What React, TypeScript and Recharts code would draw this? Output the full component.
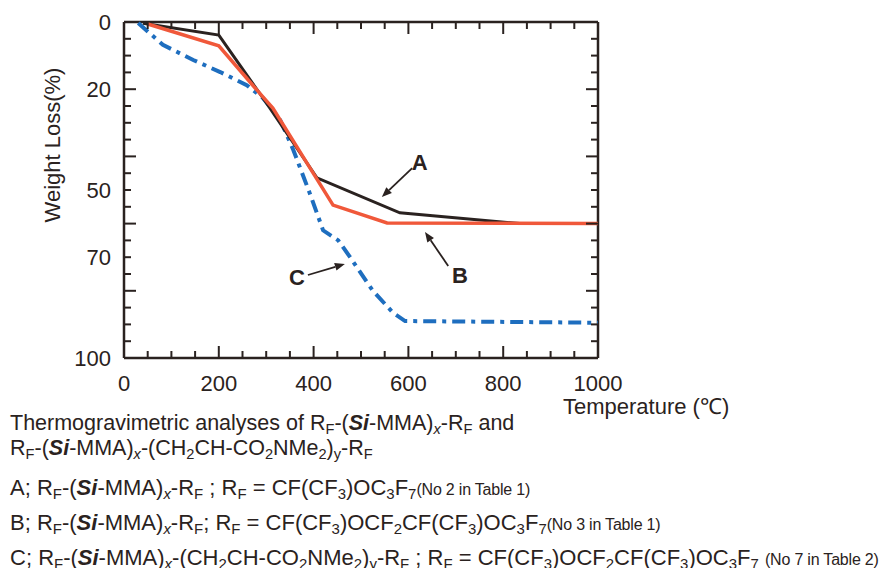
import React from 'react';
import { LineChart, Line, XAxis, YAxis, ReferenceLine, ReferenceDot } from 'recharts';

// curve A (black)
const tempA = [40, 200, 300, 407, 582, 835, 1000];
const lossA = [0.4, 3.9, 24, 46.4, 56.8, 60, 60];

// curve B (red)
const tempB = [50, 200, 293, 314, 441, 555, 1000];
const lossB = [0.6, 7.1, 22.3, 25.6, 54.5, 59.8, 60];

// curve C (blue, dash-dot)
const tempC = [30, 82, 146, 203, 259, 293, 329, 357, 392, 420, 452, 477, 525, 568, 593, 1000];
const lossC = [0.3, 6.8, 11.3, 14.9, 18.8, 22.6, 29, 38, 51, 62, 65, 70, 80, 86.6, 89, 89.5];

const xTicks = [0, 50, 100, 150, 200, 250, 300, 350, 400, 450, 500, 550, 600, 650, 700, 750, 800, 850, 900, 950, 1000];
const xLabels = [0, 200, 400, 600, 800, 1000];
const yTicks = [0, 5, 10, 15, 20, 25, 30, 35, 40, 45, 50, 55, 60, 65, 70, 75, 80, 85, 90, 95, 100];
const yLabels = [0, 20, 50, 70, 100];

// annotation letters and arrows: [temp, loss]
const letterA = [624, 41.7];
const letterB = [709, 75.3];
const letterC = [365, 75.9];
const arrowA = [[608, 43.5], [544, 52.1]];
const arrowB = [[684, 72.6], [635, 62.5]];
const arrowC = [[388, 75.3], [466, 72]];

const INK = '#2a2220';
const RED = '#f0583a';
const BLUE = '#1e6ebf';
const FONT = '"Liberation Sans", Arial, Helvetica, sans-serif';

const toRows = (xs: number[], ys: number[]) => xs.map((t, i) => ({ t, loss: ys[i] }));

const BottomTick = ({ x, y, payload }: any) => {
  const v = payload.value;
  const major = v % 200 === 0;
  return (
    <g>
      <line x1={x} x2={x} y1={y} y2={y - (major ? 12 : 7)} stroke={INK} strokeWidth={2} />
      {xLabels.includes(v) && (
        <text x={x} y={y + 33} textAnchor="middle" fontSize={22} fontFamily={FONT} fill={INK}>{v}</text>
      )}
    </g>
  );
};

const TopTick = ({ x, y, payload }: any) => {
  const major = payload.value % 200 === 0;
  return <line x1={x} x2={x} y1={y} y2={y + (major ? 12 : 7)} stroke={INK} strokeWidth={2} />;
};

const LeftTick = ({ x, y, payload }: any) => {
  const v = payload.value;
  const major = v % 20 === 0 && v !== 0 && v !== 100;
  return (
    <g>
      <line x1={x} x2={x + (major ? 12 : 7)} y1={y} y2={y} stroke={INK} strokeWidth={2} />
      {yLabels.includes(v) && (
        <text x={x - 13} y={y} dy="0.36em" textAnchor="end" fontSize={22} fontFamily={FONT} fill={INK}>{v}</text>
      )}
    </g>
  );
};

const RightTick = ({ x, y, payload }: any) => {
  const v = payload.value;
  const major = v % 20 === 0 && v !== 0 && v !== 100;
  return <line x1={x} x2={x - (major ? 12 : 7)} y1={y} y2={y} stroke={INK} strokeWidth={2} />;
};

const Arrow = (props: any) => {
  const { x1, y1, x2, y2 } = props;
  const a = Math.atan2(y2 - y1, x2 - x1);
  const len = 10;
  const w = 4;
  const bx = x2 - len * Math.cos(a);
  const by = y2 - len * Math.sin(a);
  const px = -Math.sin(a) * w;
  const py = Math.cos(a) * w;
  return (
    <g>
      <line x1={x1} y1={y1} x2={bx} y2={by} stroke={INK} strokeWidth={1.8} />
      <polygon points={`${x2},${y2} ${bx + px},${by + py} ${bx - px},${by - py}`} fill={INK} />
    </g>
  );
};

const Letter = (txt: string) => (p: any) => (
  <text x={p.cx} y={p.cy} dy="0.36em" textAnchor="middle" fontSize={22} fontWeight="bold" fontFamily={FONT} fill={INK}>
    {txt}
  </text>
);

const sub: React.CSSProperties = { fontSize: '0.68em', verticalAlign: '-0.3em', lineHeight: 0 };
const small: React.CSSProperties = { fontSize: 16, letterSpacing: -0.2 };

const Si = () => (
  <b>
    <i>Si</i>
  </b>
);
const RF = () => (
  <>
    R<span style={sub}>F</span>
  </>
);

const line = (top: number, size: number): React.CSSProperties => ({
  position: 'absolute',
  left: 2,
  top,
  whiteSpace: 'nowrap',
  lineHeight: '28px',
  fontSize: size,
});

export default function App() {
  return (
    <div style={{ position: 'relative', width: 880, height: 560, fontFamily: FONT, color: INK }}>
      <LineChart width={880} height={420} margin={{ top: 13, right: 289, left: 0, bottom: 0 }}>
        <XAxis
          xAxisId="b"
          dataKey="t"
          type="number"
          domain={[0, 1000]}
          ticks={xTicks}
          interval={0}
          tickSize={0}
          tickMargin={0}
          height={70}
          tick={<BottomTick />}
          tickLine={false}
          axisLine={{ stroke: INK, strokeWidth: 2.5 }}
          label={(p: any) => (
            <text x={p.viewBox.x + p.viewBox.width - 35} y={p.viewBox.y + 56} fontSize={22} fontFamily={FONT} fill={INK}>
              Temperature (℃)
            </text>
          )}
        />
        <XAxis
          xAxisId="top"
          orientation="top"
          dataKey="t"
          type="number"
          domain={[0, 1000]}
          ticks={xTicks}
          interval={0}
          tickSize={0}
          tickMargin={0}
          height={1}
          tick={<TopTick />}
          tickLine={false}
          axisLine={false}
        />
        <YAxis
          yAxisId="l"
          type="number"
          domain={[0, 100]}
          reversed
          ticks={yTicks}
          interval={0}
          tickSize={0}
          tickMargin={0}
          width={116}
          tick={<LeftTick />}
          tickLine={false}
          axisLine={{ stroke: INK, strokeWidth: 2.5 }}
          label={() => (
            <text
              x={44}
              y={137}
              transform="rotate(-90 44 137)"
              textAnchor="middle"
              dominantBaseline="central"
              fontSize={22}
              fontFamily={FONT}
              fill={INK}
            >
              Weight Loss(%)
            </text>
          )}
        />
        <YAxis
          yAxisId="r"
          orientation="right"
          type="number"
          domain={[0, 100]}
          reversed
          ticks={yTicks}
          interval={0}
          tickSize={0}
          tickMargin={0}
          width={1}
          tick={<RightTick />}
          tickLine={false}
          axisLine={false}
        />

        {/* plot frame top and right edges */}
        <ReferenceLine xAxisId="b" yAxisId="l" y={0} stroke={INK} strokeWidth={2.5} />
        <ReferenceLine xAxisId="b" yAxisId="l" x={1000} stroke={INK} strokeWidth={2.5} />

        {/* invisible copy of A bound to the mirror axes so their ticks get drawn */}
        <Line xAxisId="top" yAxisId="r" data={toRows(tempA, lossA)} dataKey="loss" stroke="none" dot={false} activeDot={false} isAnimationActive={false} />

        <Line xAxisId="b" yAxisId="l" data={toRows(tempC, lossC)} dataKey="loss" type="linear" stroke={BLUE} strokeWidth={4} strokeDasharray="13 6 4 6" dot={false} isAnimationActive={false} />
        <Line xAxisId="b" yAxisId="l" data={toRows(tempA, lossA)} dataKey="loss" type="linear" stroke={INK} strokeWidth={3} dot={false} isAnimationActive={false} />
        <Line xAxisId="b" yAxisId="l" data={toRows(tempB, lossB)} dataKey="loss" type="linear" stroke={RED} strokeWidth={3.5} dot={false} isAnimationActive={false} />

        {[arrowA, arrowB, arrowC].map((seg, i) => (
          <ReferenceLine
            key={i}
            xAxisId="b"
            yAxisId="l"
            segment={[{ x: seg[0][0], y: seg[0][1] }, { x: seg[1][0], y: seg[1][1] }]}
            shape={Arrow}
          />
        ))}
        <ReferenceDot xAxisId="b" yAxisId="l" x={letterA[0]} y={letterA[1]} r={0} shape={Letter('A')} />
        <ReferenceDot xAxisId="b" yAxisId="l" x={letterB[0]} y={letterB[1]} r={0} shape={Letter('B')} />
        <ReferenceDot xAxisId="b" yAxisId="l" x={letterC[0]} y={letterC[1]} r={0} shape={Letter('C')} />
      </LineChart>

      <div style={line(401, 21.5)}>
        Thermogravimetric analyses of <RF />-(<Si />-MMA)<span style={sub}><i>x</i></span>-<RF /> and
      </div>
      <div style={line(426, 21.5)}>
        <RF />-(<Si />-MMA)<span style={sub}><i>x</i></span>-(CH<span style={sub}>2</span>CH-CO<span style={sub}>2</span>NMe
        <span style={sub}>2</span>)<span style={sub}>y</span>-<RF />
      </div>
      <div style={line(466, 22)}>
        A; <RF />-(<Si />-MMA)<span style={sub}><i>x</i></span>-<RF /> ; <RF /> = CF(CF<span style={sub}>3</span>)OC
        <span style={sub}>3</span>F<span style={sub}>7</span>
        <span style={small}>(No 2 in Table 1)</span>
      </div>
      <div style={line(501, 22)}>
        B; <RF />-(<Si />-MMA)<span style={sub}><i>x</i></span>-<RF />; <RF /> = CF(CF<span style={sub}>3</span>)OCF
        <span style={sub}>2</span>CF(CF<span style={sub}>3</span>)OC<span style={sub}>3</span>F<span style={sub}>7</span>
        <span style={small}>(No 3 in Table 1)</span>
      </div>
      <div style={line(536, 22)}>
        C; <RF />-(<Si />-MMA)<span style={sub}><i>x</i></span>-(CH<span style={sub}>2</span>CH-CO<span style={sub}>2</span>NMe
        <span style={sub}>2</span>)<span style={sub}>y</span>-<RF /> ; <RF /> = CF(CF<span style={sub}>3</span>)OCF
        <span style={sub}>2</span>CF(CF<span style={sub}>3</span>)OC<span style={sub}>3</span>F<span style={sub}>7</span>{' '}
        <span style={small}>(No 7 in Table 2)</span>
      </div>
    </div>
  );
}
